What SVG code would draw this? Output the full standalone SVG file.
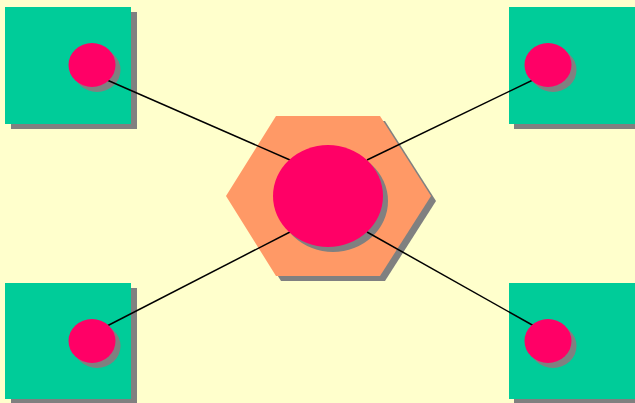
<svg xmlns="http://www.w3.org/2000/svg" width="635" height="403" viewBox="0 0 635 403">
<style>
.sq{fill:#00cc99}
.sh{fill:#808080}
.dot{fill:#ff0066}
.hex{fill:#ff9966}
.ln{stroke:#000;stroke-width:1.5;fill:none}
</style>
<rect width="635" height="403" fill="#ffffcc"/>
<g id="box-tl"><rect class="sh" x="11" y="12" width="126" height="117"/><rect class="sq" x="5" y="7" width="126" height="117"/><ellipse class="sh" cx="97" cy="70" rx="23.5" ry="22"/></g>
<g id="box-tr"><rect class="sh" x="514" y="12" width="126" height="117"/><rect class="sq" x="509" y="7" width="126" height="117"/><ellipse class="sh" cx="553" cy="70" rx="23.5" ry="22"/></g>
<g id="box-bl"><rect class="sh" x="11" y="288" width="126" height="117"/><rect class="sq" x="5" y="283" width="126" height="116"/><ellipse class="sh" cx="97" cy="346" rx="23.5" ry="22"/></g>
<g id="box-br"><rect class="sh" x="514" y="288" width="126" height="117"/><rect class="sq" x="509" y="283" width="126" height="116"/><ellipse class="sh" cx="553" cy="346" rx="23.5" ry="22"/></g>
<g id="hub">
<polygon class="sh" points="281,121 385,121 436,201 385,281 281,281 231,201"/>
<polygon class="hex" points="276,116 380,116 431,196 380,276 276,276 226,196"/>
<ellipse class="sh" cx="333" cy="201" rx="55" ry="51"/>
</g>
<g id="connectors">
<line class="ln" x1="107" y1="80" x2="290" y2="160"/>
<line class="ln" x1="367" y1="160" x2="537" y2="78"/>
<line class="ln" x1="107" y1="326" x2="290" y2="232"/>
<line class="ln" x1="367" y1="232" x2="534" y2="326"/>
</g>
<g id="hub-dot"><ellipse class="dot" cx="328" cy="196" rx="55" ry="51"/></g>
<g id="dot-tl"><ellipse class="dot" cx="92" cy="65" rx="23.5" ry="22"/></g>
<g id="dot-tr"><ellipse class="dot" cx="548" cy="65" rx="23.5" ry="22"/></g>
<g id="dot-bl"><ellipse class="dot" cx="92" cy="341" rx="23.5" ry="22"/></g>
<g id="dot-br"><ellipse class="dot" cx="548" cy="341" rx="23.5" ry="22"/></g>
</svg>
